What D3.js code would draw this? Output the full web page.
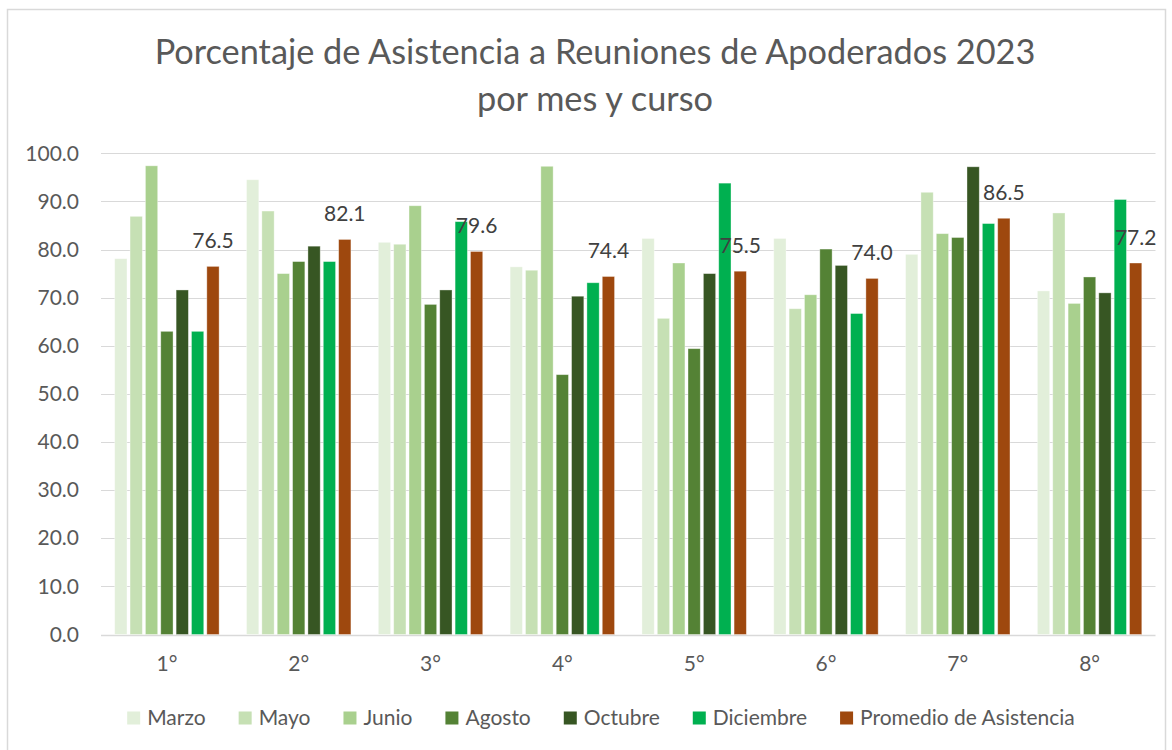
<!DOCTYPE html>
<html>
<head>
<meta charset="utf-8">
<script src="https://cdn.jsdelivr.net/npm/d3@7"></script>
<style>
  html, body { margin: 0; padding: 0; background: #fff; }
  svg { display: block; font-family: Lato, "Open Sans", sans-serif; }
</style>
</head>
<body>
<svg id="chart" width="1172" height="750"></svg>
<script>
// categorias (cursos) y series (meses)
const cursos = ["1°", "2°", "3°", "4°", "5°", "6°", "7°", "8°"];
const series = ["Marzo", "Mayo", "Junio", "Agosto", "Octubre", "Diciembre", "Promedio de Asistencia"];

const marzo = [78.1, 94.5, 81.5, 76.4, 82.3, 82.3, 79.0, 71.4];
const mayo = [86.9, 88.0, 81.1, 75.7, 65.7, 67.7, 91.9, 87.6];
const junio = [97.4, 75.0, 89.1, 97.3, 77.2, 70.6, 83.3, 68.8];
const agosto = [63.0, 77.5, 68.6, 54.0, 59.4, 80.1, 82.5, 74.3];
const octubre = [71.6, 80.7, 71.6, 70.3, 75.0, 76.7, 97.2, 71.0];
const diciembre = [63.0, 77.5, 85.8, 73.1, 93.8, 66.7, 85.4, 90.4];
const promedio = [76.5, 82.1, 79.6, 74.4, 75.5, 74.0, 86.5, 77.2];

const yTicks = [0, 10, 20, 30, 40, 50, 60, 70, 80, 90, 100];

const colores = ["#e2efda", "#c6e0b4", "#a9d08e", "#548235", "#375623", "#00b050", "#9e480e"];

const valores = [marzo, mayo, junio, agosto, octubre, diciembre, promedio];
const data = cursos.map((c, i) => ({
  curso: c,
  items: series.map((s, j) => ({ serie: s, value: valores[j][i], idx: j }))
}));

const svg = d3.select("#chart");

// marco del grafico
svg.append("rect")
  .attr("x", 7.5).attr("y", 9.5)
  .attr("width", 1158).attr("height", 760)
  .attr("fill", "#fff")
  .attr("stroke", "#d9d9d9")
  .attr("stroke-width", 1.5);

const plot = { left: 101, right: 1155.5, top: 153.3, bottom: 634.5 };

const x0 = d3.scaleBand()
  .domain(cursos)
  .range([plot.left, plot.right])
  .padding(0);

const gap = 27.4;
const x1 = d3.scaleBand()
  .domain(series)
  .range([gap / 2, x0.bandwidth() - gap / 2])
  .paddingInner(0.2)
  .paddingOuter(0);

const y = d3.scaleLinear()
  .domain([0, 100])
  .range([plot.bottom, plot.top]);

// titulo
const title = svg.append("text")
  .attr("text-anchor", "middle")
  .attr("fill", "#595959")
  .attr("font-size", 34.3);
title.append("tspan").attr("x", 595).attr("y", 64)
  .text("Porcentaje de Asistencia a Reuniones de Apoderados 2023");
title.append("tspan").attr("x", 595).attr("y", 111)
  .text("por mes y curso");

// lineas de cuadricula
svg.append("g")
  .selectAll("line")
  .data(yTicks)
  .join("line")
  .attr("x1", plot.left).attr("x2", plot.right)
  .attr("y1", d => Math.round(y(d)) + 0.5)
  .attr("y2", d => Math.round(y(d)) + 0.5)
  .attr("stroke", "#d9d9d9")
  .attr("stroke-width", d => d === 0 ? 1.5 : 1.2);

// eje y
const yAxis = svg.append("g")
  .attr("transform", `translate(${plot.left - 22},0)`)
  .call(d3.axisLeft(y).tickValues(yTicks).tickFormat(d3.format(".1f")).tickSize(0).tickPadding(0));
yAxis.select(".domain").remove();
yAxis.selectAll("text")
  .attr("font-family", "Lato, sans-serif")
  .attr("font-size", 21)
  .attr("fill", "#595959");

// eje x
const xAxis = svg.append("g")
  .attr("transform", `translate(0,${plot.bottom})`)
  .call(d3.axisBottom(x0).tickSize(0).tickPadding(22));
xAxis.select(".domain").remove();
xAxis.selectAll("text")
  .attr("font-family", "Lato, sans-serif")
  .attr("font-size", 21)
  .attr("fill", "#595959");

// barras
const groups = svg.append("g")
  .selectAll("g")
  .data(data)
  .join("g")
  .attr("transform", d => `translate(${x0(d.curso)},0)`);

groups.selectAll("rect")
  .data(d => d.items)
  .join("rect")
  .attr("x", d => x1(d.serie))
  .attr("width", x1.bandwidth())
  .attr("y", d => y(d.value))
  .attr("height", d => y(0) - y(d.value))
  .attr("fill", d => colores[d.idx])
  .attr("stroke", "#ffffff")
  .attr("stroke-opacity", 0.45)
  .attr("stroke-width", 0.8);

// etiquetas del promedio
groups.append("text")
  .datum(d => d.items[6])
  .attr("x", d => x1(d.serie) + x1.bandwidth() / 2)
  .attr("y", d => y(d.value) - 18)
  .attr("text-anchor", "middle")
  .attr("font-size", 21)
  .attr("fill", "#404040")
  .text(d => d3.format(".1f")(d.value));

// leyenda
const legend = svg.append("g").attr("transform", "translate(0,718)");
const items = legend.selectAll("g")
  .data(series)
  .join("g");
items.append("rect")
  .attr("width", 13).attr("height", 13)
  .attr("y", -6.5)
  .attr("fill", (d, i) => colores[i]);
items.append("text")
  .attr("x", 20)
  .attr("dy", "0.35em")
  .attr("font-size", 21)
  .attr("fill", "#595959")
  .text(d => d);

const widths = [];
items.each(function() {
  widths.push(20 + this.querySelector("text").getComputedTextLength());
});
const itemGap = 33;
const total = d3.sum(widths) + itemGap * (widths.length - 1);
let cx = 601 - total / 2;
items.attr("transform", (d, i) => {
  const t = `translate(${cx},0)`;
  cx += widths[i] + itemGap;
  return t;
});
</script>
</body>
</html>
